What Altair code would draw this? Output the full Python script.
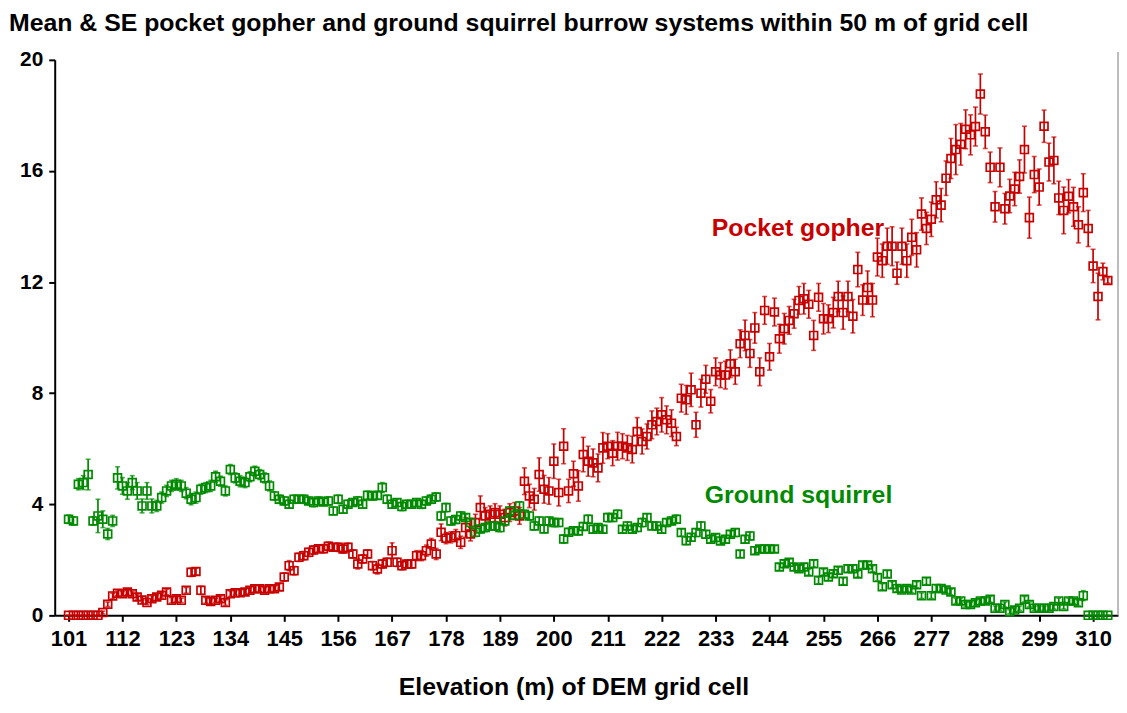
import altair as alt
import pandas as pd

# ---------------- data ----------------
elevation = list(range(101, 314))

gopher_mean = [
    0, 0, 0, 0, 0, 0, 0, 0.1, 0.4, 0.7,
    0.8, 0.78, 0.84, 0.78, 0.66, 0.55, 0.46, 0.6, 0.66, 0.72,
    0.84, 0.54, 0.6, 0.54, 0.9, 1.55, 1.58, 0.9, 0.54, 0.5,
    0.54, 0.6, 0.46, 0.78, 0.81, 0.81, 0.84, 0.9, 0.96, 0.96,
    0.9, 0.96, 0.96, 1.02, 1.38, 1.79, 1.61, 2.09, 2.15, 2.27,
    2.35, 2.4, 2.4, 2.49, 2.45, 2.45, 2.39, 2.45, 2.21, 1.85,
    2.03, 2.21, 1.79, 1.67, 1.85, 1.91, 2.33, 1.91, 1.79, 1.85,
    1.85, 2.15, 2.15, 2.33, 2.57, 2.21, 2.99, 2.78, 2.81, 2.87,
    2.63, 3.16, 2.93, 3.34, 3.88, 3.58, 3.64, 3.7, 3.64, 3.52,
    3.7, 3.76, 3.58, 4.83, 4.3, 4.18, 5.07, 4.54, 4.48, 5.55,
    4.42, 6.09, 4.48, 5.1, 4.66, 5.79, 5.55, 5.49, 5.31, 6.03,
    6.09, 5.84, 6.09, 6.09, 6.03, 5.97, 6.62, 6.26, 6.44, 6.86,
    6.98, 7.22, 7.04, 6.92, 6.44, 7.82, 7.76, 8.12, 6.86, 8.0,
    8.5, 7.71, 8.77, 8.65, 8.65, 9.06, 8.77, 9.78, 10.08, 9.43,
    10.35, 8.77, 10.98, 9.31, 10.92, 9.96, 10.32, 10.62, 10.86, 11.34,
    11.4, 11.2, 10.08, 11.45, 10.68, 10.68, 10.9, 11.48, 10.9, 11.48,
    10.77, 12.45, 11.35, 11.8, 11.35, 12.9, 12.77, 13.29, 13.29, 12.32,
    13.29, 12.77, 13.61, 13.16, 14.45, 13.93, 14.26, 14.96, 14.77, 15.74,
    16.45, 16.77, 16.96, 17.5, 17.3, 17.6, 18.77, 17.41, 16.13, 14.71,
    16.13, 14.64, 15.1, 15.35, 15.8, 16.77, 14.32, 15.87, 15.42, 17.61,
    16.32, 16.38, 15.03, 14.58, 15.09, 14.71, 14.06, 15.22, 13.93, 12.58,
    11.48, 12.38, 12.06,
]

gopher_se = [
    0, 0, 0, 0, 0, 0, 0, 0.05, 0.08, 0.1,
    0.1, 0.08, 0.1, 0.08, 0.1, 0.12, 0.08, 0.1, 0.08, 0.1,
    0.1, 0.1, 0.12, 0.08, 0.1, 0.15, 0.12, 0.15, 0.1, 0.1,
    0.08, 0.1, 0.1, 0.1, 0.08, 0.1, 0.1, 0.1, 0.12, 0.1,
    0.1, 0.1, 0.1, 0.12, 0.15, 0.18, 0.15, 0.15, 0.15, 0.15,
    0.15, 0.12, 0.15, 0.15, 0.12, 0.15, 0.15, 0.15, 0.15, 0.18,
    0.15, 0.15, 0.15, 0.18, 0.15, 0.15, 0.28, 0.15, 0.15, 0.15,
    0.15, 0.18, 0.18, 0.2, 0.2, 0.2, 0.3, 0.2, 0.2, 0.22,
    0.22, 0.35, 0.25, 0.3, 0.42, 0.3, 0.3, 0.32, 0.3, 0.3,
    0.32, 0.3, 0.3, 0.48, 0.42, 0.39, 0.6, 0.5, 0.48, 0.62,
    0.48, 0.63, 0.42, 0.45, 0.55, 0.62, 0.54, 0.5, 0.5, 0.55,
    0.45, 0.45, 0.5, 0.45, 0.45, 0.48, 0.5, 0.45, 0.45, 0.5,
    0.48, 0.62, 0.5, 0.48, 0.33, 0.5, 0.52, 0.6, 0.45, 0.5,
    0.5, 0.42, 0.5, 0.45, 0.5, 0.5, 0.45, 0.5, 0.55, 0.5,
    0.55, 0.5, 0.5, 0.48, 0.5, 0.52, 0.55, 0.5, 0.52, 0.5,
    0.55, 0.5, 0.54, 0.5, 0.55, 0.5, 0.55, 0.55, 0.6, 0.55,
    0.6, 0.62, 0.55, 0.6, 0.6, 0.68, 0.6, 0.65, 0.7, 0.4,
    0.65, 0.6, 0.65, 0.62, 0.58, 0.58, 0.62, 0.65, 0.6, 0.62,
    0.72, 0.9, 0.75, 0.7, 0.72, 0.7, 0.72, 0.6, 0.55, 0.55,
    0.7, 0.55, 0.6, 0.6, 0.6, 0.84, 0.74, 0.65, 0.65, 0.58,
    0.68, 0.84, 0.6, 0.84, 0.6, 0.7, 0.65, 0.68, 0.65, 0.6,
    0.84, 0.3, 0.1,
]

squirrel_mean = [
    3.46, 3.4, 4.72, 4.78, 5.07, 3.4, 3.58, 3.46, 2.93, 3.4,
    4.95, 4.66, 4.48, 4.78, 4.48, 3.94, 4.48, 3.94, 3.94, 4.24,
    4.48, 4.66, 4.72, 4.66, 4.4, 4.18, 4.24, 4.54, 4.6, 4.66,
    4.99, 4.83, 4.48, 5.25, 4.95, 4.83, 4.78, 4.99, 5.19, 5.07,
    4.95, 4.66, 4.3, 4.18, 4.12, 4.0, 4.18, 4.18, 4.18, 4.12,
    4.06, 4.12, 4.08, 4.12, 3.76, 4.18, 3.82, 4.0, 4.06, 4.12,
    4.0, 4.32, 4.3, 4.32, 4.6, 4.18, 4.0, 4.06, 3.92, 4.0,
    4.0, 4.06, 4.0, 4.12, 4.18, 4.26, 3.58, 3.88, 3.4, 3.45,
    3.58, 3.52, 3.34, 2.99, 3.11, 3.16, 3.22, 3.22, 3.16, 3.4,
    3.76, 3.6, 3.94, 3.64, 3.58, 3.22, 3.4, 3.11, 3.4, 3.34,
    3.34, 2.75, 2.99, 3.05, 3.04, 3.2, 3.46, 3.1, 3.16, 3.1,
    3.52, 3.52, 3.64, 3.1, 3.22, 3.1, 3.16, 3.34, 3.52, 3.22,
    3.22, 3.1, 3.34, 3.4, 3.46, 2.98, 2.69, 2.81, 2.98, 3.22,
    2.92, 2.74, 2.8, 2.68, 2.74, 2.92, 2.98, 2.21, 2.74, 2.86,
    2.33, 2.39, 2.39, 2.39, 2.39, 1.74, 1.86, 1.91, 1.74, 1.68,
    1.74, 1.56, 1.86, 1.26, 1.56, 1.38, 1.5, 1.62, 1.23, 1.68,
    1.68, 1.49, 1.81, 1.81, 1.68, 1.36, 1.03, 1.49, 1.1, 0.97,
    0.91, 0.97, 0.91, 1.1, 0.71, 1.23, 0.71, 0.97, 0.97, 0.91,
    0.84, 0.52, 0.52, 0.39, 0.39, 0.45, 0.52, 0.52, 0.58, 0.26,
    0.26, 0.39, 0.13, 0.19, 0.26, 0.58, 0.39, 0.26, 0.26, 0.26,
    0.26, 0.32, 0.52, 0.32, 0.52, 0.52, 0.45, 0.71, 0, 0,
    0, 0, 0,
]

squirrel_se = [
    0.15, 0.15, 0.2, 0.25, 0.55, 0.15, 0.6, 0.3, 0.2, 0.2,
    0.4, 0.3, 0.3, 0.25, 0.3, 0.25, 0.3, 0.25, 0.2, 0.2,
    0.2, 0.2, 0.2, 0.2, 0.2, 0.2, 0.2, 0.18, 0.18, 0.2,
    0.2, 0.18, 0.18, 0.18, 0.18, 0.2, 0.18, 0.18, 0.18, 0.18,
    0.18, 0.18, 0.15, 0.15, 0.15, 0.14, 0.15, 0.13, 0.15, 0.14,
    0.15, 0.14, 0.13, 0.15, 0.14, 0.15, 0.14, 0.15, 0.13, 0.15,
    0.14, 0.15, 0.15, 0.14, 0.18, 0.15, 0.14, 0.13, 0.15, 0.14,
    0.13, 0.14, 0.15, 0.14, 0.15, 0.15, 0.16, 0.15, 0.15, 0.14,
    0.15, 0.14, 0.15, 0.15, 0.14, 0.15, 0.14, 0.15, 0.15, 0.14,
    0.15, 0.14, 0.15, 0.14, 0.15, 0.15, 0.14, 0.13, 0.14, 0.15,
    0.14, 0.15, 0.14, 0.13, 0.14, 0.14, 0.15, 0.14, 0.13, 0.14,
    0.15, 0.14, 0.15, 0.13, 0.14, 0.13, 0.14, 0.15, 0.14, 0.13,
    0.14, 0.13, 0.14, 0.14, 0.15, 0.13, 0.14, 0.13, 0.14, 0.15,
    0.13, 0.12, 0.13, 0.12, 0.13, 0.13, 0.14, 0.12, 0.13, 0.14,
    0.12, 0.12, 0.13, 0.12, 0.12, 0.12, 0.13, 0.12, 0.12, 0.12,
    0.12, 0.11, 0.12, 0.12, 0.11, 0.12, 0.12, 0.11, 0.12, 0.12,
    0.12, 0.11, 0.12, 0.12, 0.11, 0.12, 0.11, 0.12, 0.11, 0.11,
    0.1, 0.11, 0.1, 0.11, 0.1, 0.12, 0.1, 0.11, 0.1, 0.1,
    0.1, 0.09, 0.1, 0.09, 0.09, 0.1, 0.1, 0.09, 0.1, 0.08,
    0.08, 0.09, 0.07, 0.08, 0.08, 0.1, 0.09, 0.08, 0.08, 0.08,
    0.08, 0.09, 0.1, 0.09, 0.1, 0.1, 0.1, 0.18, 0, 0,
    0, 0, 0,
]

species_names = ["Pocket gopher", "Ground squirrel"]
species_colors = ["#C80000", "#008A00"]
x_tick_values = [101, 112, 123, 134, 145, 156, 167, 178, 189, 200,
                 211, 222, 233, 244, 255, 266, 277, 288, 299, 310]
y_tick_values = [0, 4, 8, 12, 16, 20]

# annotation anchors (data coordinates)
label_elev = [249.8, 249.9]
label_value = [13.95, 4.32]

for arr in (gopher_mean, gopher_se, squirrel_mean, squirrel_se):
    assert len(arr) == len(elevation), len(arr)

rows = []
for name, means, ses in [
    ("Pocket gopher", gopher_mean, gopher_se),
    ("Ground squirrel", squirrel_mean, squirrel_se),
]:
    for e, m, s in zip(elevation, means, ses):
        rows.append({"elev": e, "species": name, "mean": m,
                     "lo": round(m - s, 3), "hi": round(m + s, 3)})
df = pd.DataFrame(rows)

labels_df = pd.DataFrame({"species": species_names,
                          "elev": label_elev, "value": label_value})

FONT = "Liberation Sans"

x_scale = alt.Scale(domain=[98.18, 315.08], nice=False, zero=False)
y_scale = alt.Scale(domain=[0, 20], nice=False, zero=True)
color_enc = alt.Color("species:N",
                      scale=alt.Scale(domain=species_names, range=species_colors),
                      legend=None)

x_axis = alt.Axis(values=x_tick_values, title="Elevation (m) of DEM grid cell",
                  labelFontSize=22, labelPadding=7, tickSize=6,
                  titleFontSize=25, titleX=522, titleY=80,
                  titleBaseline="alphabetic", labelFlush=False,
                  labelOverlap=False, format="d")
y_axis = alt.Axis(values=y_tick_values, title=None, labelFontSize=21,
                  labelPadding=6, tickSize=6, format="d")

X = alt.X("elev:Q", scale=x_scale, axis=x_axis)

base = alt.Chart(df).encode(x=X, color=color_enc)

bars = base.mark_rule(strokeWidth=1.7).encode(
    y=alt.Y("lo:Q", scale=y_scale, axis=y_axis), y2="hi:Q")
caps_hi = base.mark_tick(orient="horizontal", size=5, thickness=1.6).encode(
    y=alt.Y("hi:Q", scale=y_scale, axis=y_axis))
caps_lo = base.mark_tick(orient="horizontal", size=5, thickness=1.6).encode(
    y=alt.Y("lo:Q", scale=y_scale, axis=y_axis))
points = base.mark_point(shape="square", size=62, filled=False,
                         strokeWidth=1.7, opacity=1).encode(
    y=alt.Y("mean:Q", scale=y_scale, axis=y_axis))

labels = alt.Chart(labels_df).mark_text(
    font=FONT, fontSize=25, fontWeight="bold", align="center",
    baseline="middle").encode(
    x=alt.X("elev:Q", scale=x_scale, axis=x_axis),
    y=alt.Y("value:Q", scale=y_scale, axis=y_axis),
    text="species:N", color=color_enc)

border = alt.Chart(pd.DataFrame({"k": [0]})).mark_rule(
    color="#A6A6A6", strokeWidth=1.5).encode(
    x=alt.value(1070), y=alt.value(-8), y2=alt.value(559))

chart = alt.layer(bars, caps_hi, caps_lo, points, labels, border).properties(
    width=1070, height=559,
    padding={"left": 47, "top": 50, "right": 1, "bottom": 85},
    autosize=alt.AutoSizeParams(type="none"),
    title=alt.TitleParams(
        text="Mean & SE pocket gopher and ground squirrel burrow systems within 50 m of grid cell",
        anchor="start", frame="group", dx=-46, offset=13,
        fontSize=25, fontWeight="bold", font=FONT, color="black"),
).configure_view(strokeWidth=0).configure_axis(
    labelFont=FONT, labelFontWeight="bold", labelColor="black",
    titleFont=FONT, titleFontWeight="bold", titleColor="black",
    domainColor="black", domainWidth=2, tickColor="black", tickWidth=2,
    grid=False)

chart.save("out.html", embed_options={"renderer": "svg", "actions": False})
